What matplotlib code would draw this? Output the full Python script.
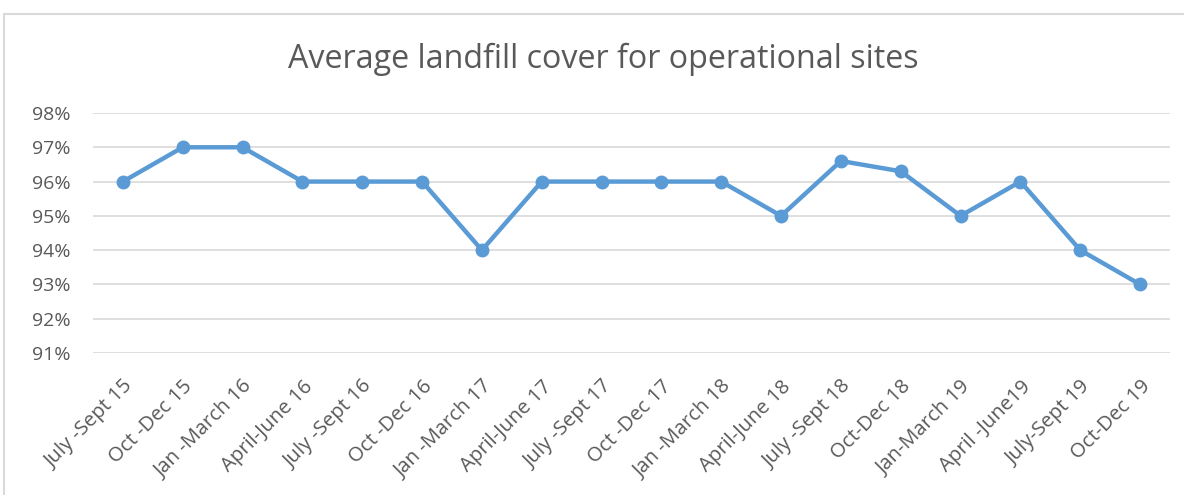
import matplotlib
matplotlib.use("Agg")
import matplotlib.pyplot as plt
from matplotlib.patches import Rectangle
from matplotlib.ticker import FuncFormatter

categories = ["July -Sept 15", "Oct -Dec 15", "Jan -March 16", "April-June 16",
              "July -Sept 16", "Oct -Dec 16", "Jan -March 17", "April-June 17",
              "July -Sept 17", "Oct -Dec 17", "Jan -March 18", "April-June 18",
              "July -Sept 18", "Oct-Dec 18", "Jan-March 19", "April -June19",
              "July-Sept 19", "Oct-Dec 19"]
values = [0.96, 0.97, 0.97, 0.96, 0.96, 0.96, 0.94, 0.96, 0.96, 0.96, 0.96, 0.95,
          0.966, 0.963, 0.95, 0.96, 0.94, 0.93]
yticks = [0.91, 0.92, 0.93, 0.94, 0.95, 0.96, 0.97, 0.98]

plt.rcParams['font.family'] = ['Open Sans', 'DejaVu Sans']
fig = plt.figure(figsize=(11.84, 4.95), dpi=100)
fig.patches.append(Rectangle((4/1184, -0.1), 1.2, 1 - 14/495 + 0.1, transform=fig.transFigure,
                             fill=False, edgecolor='#d9d9d9', linewidth=1.5))
ax = fig.add_axes([93/1184, 1 - 353/495, (1170 - 93)/1184, (353 - 113)/495])
x = list(range(len(categories)))
ax.plot(x, values, color='#5B9BD5', linewidth=3.2, marker='o', markersize=9, zorder=3)
ax.set_xlim(-0.5, len(categories) - 0.5)
ax.set_ylim(0.91, 0.98)
ax.set_yticks(yticks)
ax.yaxis.set_major_formatter(FuncFormatter(lambda v, p: f"{round(v*100)}%"))
ax.grid(axis='y', color='#d9d9d9', linewidth=1.2)
ax.set_axisbelow(True)
for s in ax.spines.values():
    s.set_visible(False)
ax.tick_params(axis='both', length=0, colors='#595959')
ax.tick_params(axis='y', pad=16, labelsize=14)
ax.set_xticks(x)
ax.set_xticklabels(categories, rotation=45, ha='right', rotation_mode='anchor', fontsize=14.6)
ax.tick_params(axis='x', pad=17)
fig.text(603/1184, 1 - 59/495, "Average landfill cover for operational sites",
         ha='center', va='center', fontsize=23.2, color='#595959')
fig.savefig("out.png", dpi=100, facecolor='white')
